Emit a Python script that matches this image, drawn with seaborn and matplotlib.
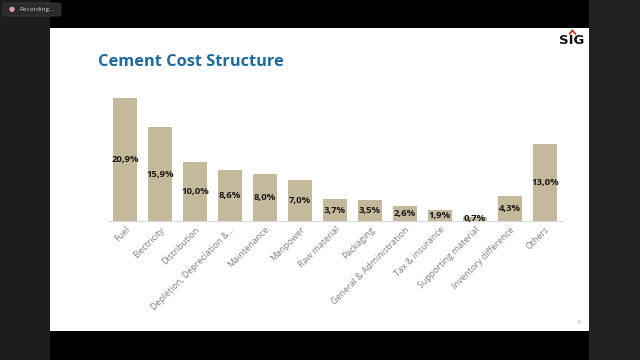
import matplotlib
matplotlib.use("Agg")
import matplotlib.pyplot as plt
import seaborn as sns
import pandas as pd
from matplotlib.patches import Rectangle, FancyBboxPatch
from matplotlib.lines import Line2D

categories = ["Fuel", "Electricity", "Distribution", "Depletion, Depreciation &...",
              "Maintenance", "Manpower", "Raw material", "Packaging",
              "General & Administration", "Tax & insurance", "Supporting material",
              "Inventory difference", "Others"]
values = [20.9, 15.9, 10.0, 8.6, 8.0, 7.0, 3.7, 3.5, 2.6, 1.9, 0.7, 4.3, 13.0]
title = "Cement Cost Structure"

sns.set_theme(style="white")
plt.rcParams['font.family'] = ['Open Sans', 'DejaVu Sans']

W, H = 640, 360
fig = plt.figure(figsize=(6.4, 3.6), dpi=100)
fig.patch.set_facecolor("#000000")

def px_rect(x0, y0, x1, y1, color, z=-5):
    fig.patches.append(Rectangle((x0 / W, 1 - y1 / H), (x1 - x0) / W, (y1 - y0) / H,
                                 transform=fig.transFigure, facecolor=color,
                                 edgecolor="none", zorder=z))

# screen background regions
px_rect(0, 0, 50, 360, "#1d1d1d")
px_rect(589, 0, 640, 360, "#222222")
px_rect(50, 28, 589, 331, "#ffffff")

# recording badge
fig.patches.append(FancyBboxPatch((3 / W, 1 - 16 / H), 58 / W, 13 / H,
                                  boxstyle="round,pad=0,rounding_size=0.005",
                                  transform=fig.transFigure, facecolor="#2a2a2a",
                                  edgecolor="#3a3a3a", lw=0.6, zorder=-4))
fig.text(12 / W, 1 - 9.5 / H, "\u25CF", color="#d9a0a0", fontsize=5, ha="center", va="center")
fig.text(19 / W, 1 - 9.5 / H, "Recording...", color="#cfcfcf", fontsize=4.6, ha="left", va="center")

# title
fig.text(98 / W, 1 - 62 / H, title, color="#1f6aa0", fontsize=11.8, fontweight="bold",
         ha="left", va="center")

# logo
fig.text(572 / W, 1 - 40.5 / H, "SIG", color="#111111", fontsize=9.5, fontweight="bold",
         ha="center", va="center", family=["DejaVu Sans"])
fig.lines.append(Line2D([569.5 / W, 572.5 / W, 575.5 / W],
                        [1 - 34 / H, 1 - 30.5 / H, 1 - 34 / H],
                        transform=fig.transFigure, color="#c0392b", lw=1.3,
                        solid_joinstyle="miter"))

# page number
fig.text(580 / W, 1 - 323 / H, "46", color="#bbbbbb", fontsize=3.5, ha="center", va="center")

# chart axes
x0, x1 = 107.5, 562.5
base = 221
ymax = 22.0
ppu = 5.89
ax = fig.add_axes([x0 / W, 1 - base / H, (x1 - x0) / W, ymax * ppu / H])
ax.set_facecolor("none")

df = pd.DataFrame({"cat": categories, "val": values})
sns.barplot(data=df, x="cat", y="val", color="#c4b99a", saturation=1, width=0.69, ax=ax)
for p in ax.patches:
    p.set_edgecolor("none")
ax.set_xlim(-0.5, len(categories) - 0.5)
ax.set_ylim(0, ymax)
ax.set_xlabel("")
ax.set_ylabel("")
ax.set_yticks([])
for s in ["top", "right", "left"]:
    ax.spines[s].set_visible(False)
ax.spines["bottom"].set_color("#d9d9d9")
ax.spines["bottom"].set_linewidth(0.8)
ax.tick_params(axis="x", length=0, pad=3)
ax.set_xticks(range(len(categories)))
ax.set_xticklabels(categories, rotation=45, ha="right", rotation_mode="anchor",
                   fontsize=6.4, color="#7f7f7f")

for i, v in enumerate(values):
    ax.text(i, v / 2, f"{v:.1f}%".replace(".", ","), ha="center", va="center",
            fontsize=6.8, fontweight="bold", color="#1a1a1a")

fig.savefig("out.png", dpi=100, facecolor=fig.get_facecolor())
